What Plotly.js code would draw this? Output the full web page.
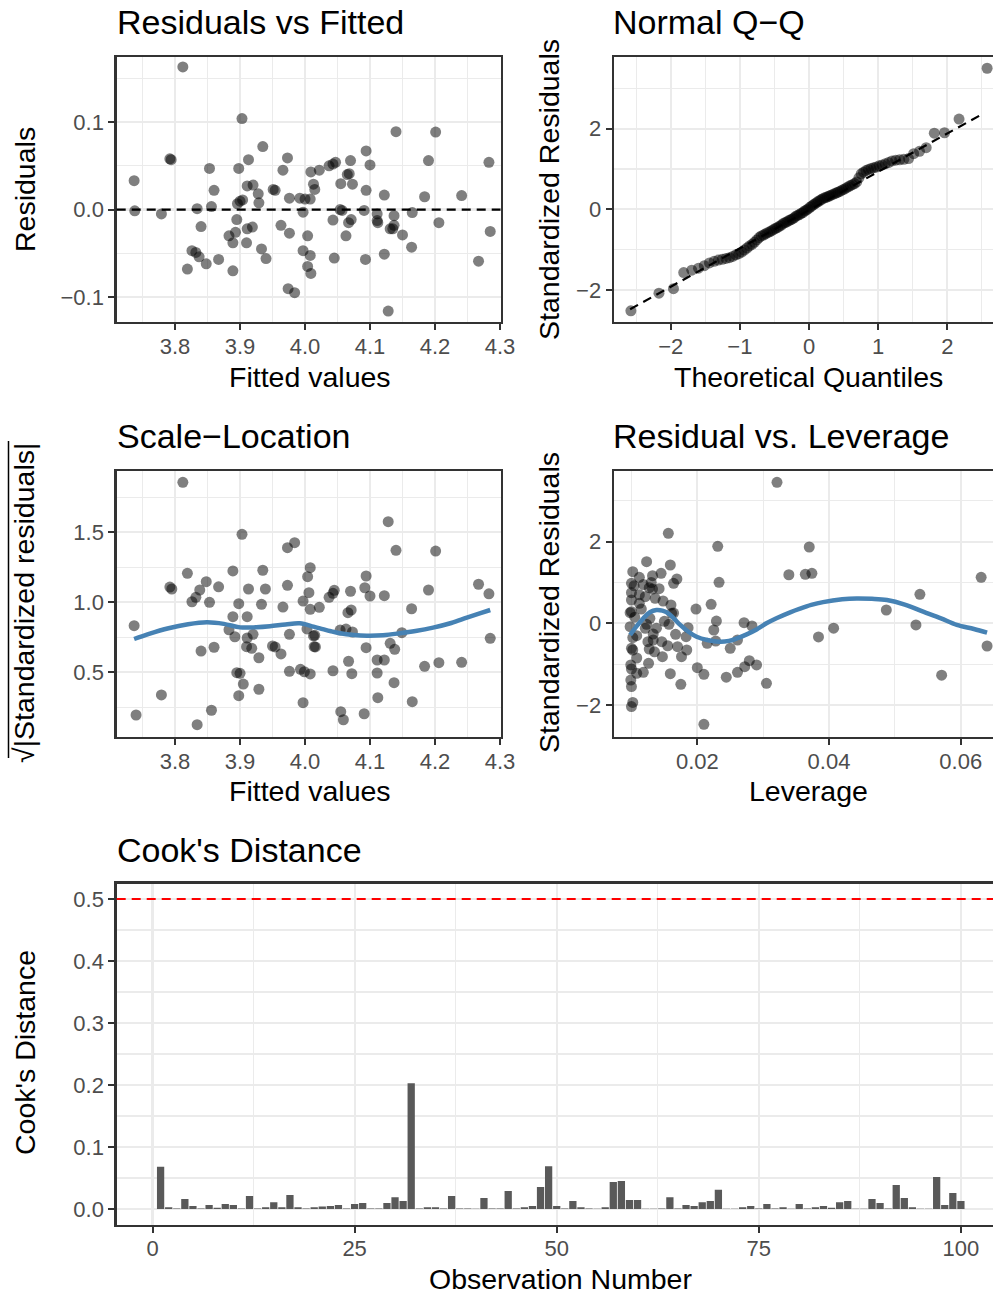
<!DOCTYPE html>
<html>
<head>
<meta charset="utf-8">
<script src="https://cdn.plot.ly/plotly-3.0.1.min.js"></script>
<style>html,body{margin:0;padding:0;background:#fff;}#chart{width:993px;height:1294px;}</style>
</head>
<body>
<div id="chart"></div>
<script>
// ---------- Data ----------
// Residuals vs Fitted
const fitted = [3.812,3.903,3.935,3.792,3.794,3.913,3.973,3.966,3.853,3.898,
3.737,4.009,3.860,3.911,3.920,3.928,3.951,3.954,3.976,3.992,
4.000,4.008,4.013,4.015,3.900,3.904,3.896,3.929,3.834,3.856,
3.738,3.779,3.895,3.997,3.840,3.911,3.919,3.963,3.976,3.883,
3.893,3.889,3.910,4.004,3.826,3.832,3.837,3.848,3.867,3.933,
3.940,3.997,4.008,3.819,3.889,4.004,4.009,3.974,3.984,4.140,
4.201,4.094,4.100,4.190,4.283,4.070,4.047,4.043,4.037,4.022,
4.068,4.065,4.055,4.073,4.094,4.122,4.184,4.241,4.057,4.054,
4.091,4.111,4.137,4.165,4.043,4.071,4.067,4.111,4.112,4.137,
4.131,4.135,4.150,4.206,4.285,4.063,4.164,4.122,4.045,4.093,
4.267,4.128];
const residuals = [0.163,0.104,0.072,0.058,0.057,0.057,0.059,0.045,0.047,0.047,
0.033,0.043,0.022,0.027,0.028,0.018,0.023,0.022,0.013,0.013,
0.012,0.012,0.029,0.023,0.0095,0.011,0.0066,0.0077,0.001,0.0034,
-0.0015,-0.005,-0.0115,-0.003,-0.0195,-0.022,-0.020,-0.018,-0.027,-0.030,
-0.026,-0.038,-0.038,-0.030,-0.047,-0.049,-0.054,-0.062,-0.057,-0.045,
-0.056,-0.047,-0.0525,-0.068,-0.070,-0.065,-0.073,-0.0905,-0.095,0.089,
0.0885,0.067,0.051,0.056,0.054,0.056,0.054,0.052,0.050,0.045,
0.041,0.040,0.0295,0.029,0.022,0.0165,0.0146,0.016,-0.001,0.000,
-0.001,-0.005,-0.007,-0.0035,-0.012,-0.0115,-0.015,-0.0126,-0.015,-0.018,
-0.022,-0.022,-0.029,-0.015,-0.025,-0.030,-0.043,-0.051,-0.0555,-0.057,
-0.059,-0.116];

// Normal Q-Q
const qqTheoretical = [-2.576,-2.170,-1.960,-1.812,-1.695,-1.598,-1.514,-1.440,-1.372,-1.311,
-1.254,-1.200,-1.150,-1.103,-1.058,-1.015,-0.974,-0.935,-0.896,-0.860,
-0.824,-0.789,-0.755,-0.722,-0.690,-0.659,-0.628,-0.598,-0.568,-0.539,
-0.510,-0.482,-0.454,-0.426,-0.399,-0.372,-0.345,-0.319,-0.292,-0.266,
-0.240,-0.215,-0.189,-0.164,-0.138,-0.113,-0.088,-0.063,-0.038,-0.013,
0.013,0.038,0.063,0.088,0.113,0.138,0.164,0.189,0.215,0.240,
0.266,0.292,0.319,0.345,0.372,0.399,0.426,0.454,0.482,0.510,
0.539,0.568,0.598,0.628,0.659,0.690,0.722,0.755,0.789,0.824,
0.860,0.896,0.935,0.974,1.015,1.058,1.103,1.150,1.200,1.254,
1.311,1.372,1.440,1.514,1.598,1.695,1.812,1.960,2.170,2.576];
const qqSample = [-2.52,-2.08,-1.97,-1.57,-1.51,-1.46,-1.40,-1.33,-1.29,-1.26,
-1.24,-1.22,-1.20,-1.17,-1.13,-1.10,-1.06,-1.01,-0.96,-0.91,
-0.87,-0.82,-0.76,-0.70,-0.66,-0.64,-0.61,-0.58,-0.56,-0.53,
-0.50,-0.47,-0.45,-0.42,-0.39,-0.35,-0.33,-0.31,-0.28,-0.26,
-0.24,-0.21,-0.17,-0.15,-0.13,-0.10,-0.08,-0.04,-0.02,0.01,
0.05,0.08,0.11,0.14,0.17,0.20,0.23,0.25,0.28,0.29,
0.31,0.33,0.35,0.37,0.39,0.41,0.43,0.45,0.48,0.50,
0.53,0.56,0.59,0.61,0.64,0.68,0.78,0.88,0.92,0.96,
0.99,1.01,1.03,1.05,1.08,1.10,1.13,1.16,1.20,1.22,
1.23,1.24,1.26,1.38,1.44,1.53,1.89,1.90,2.24,3.50];
const qqLineX = [-2.587, 2.461];
const qqLineY = [-2.48, 2.32];

// Scale-Location
const slFitted = [3.812,3.903,3.973,3.984,3.819,3.889,3.935,3.848,3.867,3.792,
3.795,3.838,3.832,3.826,3.913,3.939,3.973,4.008,4.004,4.006,
3.997,4.008,3.853,3.898,3.933,3.966,3.737,3.889,3.911,3.883,
3.892,3.911,3.920,3.976,4.003,4.013,3.910,3.918,3.929,3.950,
3.954,3.963,3.840,3.860,4.014,3.976,3.993,3.999,4.008,3.895,
3.900,3.905,3.929,3.898,3.779,3.997,3.856,3.740,3.834,
4.128,4.140,4.201,4.094,4.092,4.100,4.122,4.070,4.045,4.043,
4.037,4.190,4.267,4.283,4.022,4.071,4.066,4.164,4.054,4.063,
4.073,4.149,4.015,4.016,4.094,4.131,4.138,4.111,4.122,4.067,
4.184,4.206,4.241,4.043,4.072,4.111,4.137,4.285,4.112,4.165,
4.055,4.059,4.091];
const slSqrtStdResid = [1.857,1.486,1.390,1.426,1.207,1.224,1.229,1.147,1.111,1.109,
1.095,1.088,1.036,1.004,1.095,1.095,1.121,1.247,1.183,1.069,
1.009,0.950,1.000,0.990,0.986,0.966,0.833,0.897,0.897,0.804,
0.754,0.745,0.771,0.771,0.810,0.760,0.683,0.671,0.604,0.688,
0.681,0.631,0.652,0.679,0.683,0.507,0.521,0.504,0.488,0.497,
0.493,0.416,0.379,0.333,0.338,0.283,0.229,0.195,0.126,
1.576,1.371,1.366,1.188,1.104,1.045,1.047,1.079,1.086,1.064,
1.036,1.088,1.129,1.061,0.964,0.945,0.926,0.954,0.802,0.809,
0.788,0.783,0.764,0.681,0.676,0.707,0.664,0.588,0.588,0.579,
0.543,0.569,0.571,0.511,0.490,0.495,0.426,0.743,0.319,0.290,
0.219,0.161,0.204];
const slSmoothX = [3.737,3.760,3.790,3.820,3.849,3.875,3.900,3.925,3.946,3.970,3.992,4.013,4.023,4.040,4.054,4.075,4.095,4.120,4.146,4.170,4.197,4.225,4.249,4.270,4.285];
const slSmoothY = [0.738,0.775,0.815,0.843,0.857,0.846,0.821,0.822,0.829,0.842,0.850,0.826,0.814,0.793,0.779,0.767,0.762,0.765,0.779,0.795,0.819,0.852,0.890,0.922,0.945];

// Residual vs Leverage
const leverage = [0.0321,0.0156,0.0231,0.0123,0.0159,0.0102,0.0112,0.0132,0.0145,0.0100,
0.0104,0.0127,0.0132,0.0164,0.0169,0.0233,0.0339,0.0121,0.0136,0.0148,
0.0100,0.0112,0.0098,0.0100,0.0160,0.0161,0.0198,0.0221,0.0128,0.0157,
0.0098,0.0123,0.0121,0.0229,0.0186,0.0225,0.0271,0.0283,0.0108,0.0133,
0.0167,0.0183,0.0133,0.0146,0.0215,0.0228,0.0261,0.0250,0.0100,0.0102,
0.0127,0.0170,0.0184,0.0147,0.0176,0.0099,0.0100,0.0126,0.0118,0.0108,
0.0200,0.0210,0.0279,0.0290,0.0272,0.0261,0.0244,0.0159,0.0175,0.0305,
0.0099,0.0100,0.0102,0.0100,0.0210,
0.0370,0.0364,0.0374,0.0538,0.0487,0.0532,0.0407,0.0384,0.0571,0.0631,0.0640,
0.0100,0.0105,0.0115,0.0125,0.0138,0.0150,0.0108,0.0130,0.0142,0.0112,
0.0164,0.0135,0.0155,0.0102,0.0118];
const levStdResid = [3.456,2.206,1.887,1.510,1.429,1.265,1.127,1.167,1.225,0.980,
0.920,0.873,0.840,0.980,1.086,1.005,1.190,0.652,0.613,0.547,
0.571,0.490,0.260,0.284,0.449,0.245,0.350,0.466,0.122,-0.025,
-0.083,-0.025,-0.123,0.056,-0.108,-0.164,0.015,-0.066,-0.304,-0.262,
-0.270,-0.328,-0.409,-0.451,-0.490,-0.434,-0.409,-0.613,-0.613,-0.654,
-0.630,-0.573,-0.654,-0.818,-0.818,-1.020,-1.120,-0.980,-1.200,-1.225,
-1.088,-1.250,-0.917,-1.020,-1.064,-1.200,-1.320,-1.235,-1.495,-1.470,
-1.390,-1.550,-1.940,-2.040,-2.475,
1.870,1.200,1.225,0.710,0.326,-0.040,-0.120,-0.335,-1.270,1.127,-0.556,
0.750,0.150,0.350,-0.450,-0.120,0.050,-0.850,1.000,0.850,0.700,
0.250,-0.700,-0.550,-0.350,0.950];
const levSmoothX = [0.0098,0.0108,0.0118,0.0128,0.0138,0.0147,0.0156,0.0165,0.0174,0.0186,0.0199,0.0215,0.0234,0.0248,0.0260,0.0275,0.0290,0.0305,0.0321,0.0341,0.0356,0.0373,0.0391,0.0420,0.0442,0.0465,0.0488,0.0515,0.0543,0.0570,0.0594,0.0620,0.0640];
const levSmoothY = [-0.287,-0.070,0.122,0.270,0.326,0.310,0.245,0.110,-0.040,-0.200,-0.330,-0.410,-0.450,-0.430,-0.370,-0.270,-0.150,0.000,0.130,0.270,0.360,0.450,0.520,0.590,0.610,0.600,0.570,0.460,0.285,0.120,-0.040,-0.140,-0.230];

// Cook's Distance
const observation = [1,2,3,4,5,6,7,8,9,10,11,12,13,14,15,16,17,18,19,20,
21,22,23,24,25,26,27,28,29,30,31,32,33,34,35,36,37,38,39,40,
41,42,43,44,45,46,47,48,49,50,51,52,53,54,55,56,57,58,59,60,
61,62,63,64,65,66,67,68,69,70,71,72,73,74,75,76,77,78,79,80,
81,82,83,84,85,86,87,88,89,90,91,92,93,94,95,96,97,98,99,100];
const cooksDistance = [0.068,0.003,0.001,0.016,0.005,0.001,0.0065,0.002,0.008,0.0065,
0.001,0.021,0.001,0.003,0.011,0.003,0.0226,0.003,0.001,0.003,
0.004,0.005,0.0065,0.001,0.008,0.0097,0.001,0.001,0.0097,0.019,
0.013,0.203,0.001,0.003,0.003,0.001,0.021,0.001,0.001,0.0003,
0.0177,0.001,0.001,0.029,0.001,0.003,0.005,0.0355,0.069,0.005,
0.001,0.013,0.003,0.001,0.0003,0.003,0.0435,0.045,0.0145,0.0145,
0.0005,0.0005,0.001,0.019,0.001,0.0065,0.005,0.011,0.013,0.031,
0.0005,0.0003,0.003,0.005,0.001,0.008,0.001,0.003,0.0005,0.008,
0.001,0.003,0.005,0.002,0.011,0.013,0.0003,0.0003,0.016,0.0097,
0.001,0.0387,0.0177,0.003,0.0003,0.0003,0.0516,0.0065,0.026,0.013];
const cooksThreshold = 0.5;

// Titles / labels
const panelTitles = ["Residuals vs Fitted", "Normal Q\u2212Q", "Scale\u2212Location", "Residual vs. Leverage", "Cook's Distance"];

// ---------- Layout helpers (pixel geometry) ----------
const W = 993, H = 1294;
const fx = p => p / W;
const fy = p => 1 - p / H;
const FONT = "Liberation Sans, Arial, Helvetica, sans-serif";
const TICKSIZE = 22, AXTITLE = 28.5, TITLESIZE = 34;

function axis(opts) {
  return {
    domain: opts.domain,
    range: opts.range,
    anchor: opts.anchor,
    tickmode: 'linear',
    tick0: opts.tick0,
    dtick: opts.dtick,
    tickformat: opts.fmt || '',
    showgrid: true,
    gridcolor: '#EBEBEB',
    gridwidth: 2.2,
    zeroline: false,
    showline: true,
    mirror: opts.mirror,
    linecolor: '#333333',
    linewidth: 2.4,
    ticks: 'outside',
    ticklen: 6,
    tickwidth: 2,
    tickcolor: '#333333',
    ticklabelstandoff: opts.standoff || 0,
    tickfont: {family: FONT, size: TICKSIZE, color: '#4D4D4D'},
    minor: {tick0: opts.minor0, dtick: opts.minorD, showgrid: true, gridcolor: '#EBEBEB', gridwidth: 1.1},
    fixedrange: true,
    layer: 'above traces'
  };
}

const P1x = [116.7, 500.5], P1y = [57.3, 321.7];
const P2x = [614, 993];
const P3y = [471, 736.7];
const P4x = [614, 993];
const P5x = [116.7, 993], P5y = [883.5, 1224.5];

const layout = {
  width: W, height: H,
  margin: {l: 0, r: 0, t: 0, b: 0},
  paper_bgcolor: '#ffffff',
  plot_bgcolor: '#ffffff',
  showlegend: false,
  font: {family: FONT},
  xaxis: axis({domain: [fx(P1x[0]), fx(P1x[1])], range: [3.7102, 4.3008], anchor: 'y', tick0: 3.8, dtick: 0.1, fmt: '.1f', minor0: 3.75, minorD: 0.1, mirror: true, standoff: -3}),
  yaxis: axis({domain: [fy(P1y[1]), fy(P1y[0])], range: [-0.1282, 0.174], anchor: 'x', tick0: 0, dtick: 0.1, fmt: '.1f', minor0: 0.05, minorD: 0.1, mirror: true}),
  xaxis2: axis({domain: [fx(P2x[0]), fx(P2x[1])], range: [-2.820, 2.661], anchor: 'y2', tick0: 0, dtick: 1, fmt: 'd', minor0: 0.5, minorD: 1, mirror: true, standoff: -3}),
  yaxis2: axis({domain: [fy(P1y[1]), fy(P1y[0])], range: [-2.789, 3.772], anchor: 'x2', tick0: 0, dtick: 2, fmt: 'd', minor0: 1, minorD: 2, mirror: false}),
  xaxis3: axis({domain: [fx(P1x[0]), fx(P1x[1])], range: [3.7102, 4.3008], anchor: 'y3', tick0: 3.8, dtick: 0.1, fmt: '.1f', minor0: 3.75, minorD: 0.1, mirror: true, standoff: -3}),
  yaxis3: axis({domain: [fy(P3y[1]), fy(P3y[0])], range: [0.040, 1.938], anchor: 'x3', tick0: 0.5, dtick: 0.5, fmt: '.1f', minor0: 0.25, minorD: 0.5, mirror: true}),
  xaxis4: axis({domain: [fx(P4x[0]), fx(P4x[1])], range: [0.00735, 0.0649], anchor: 'y4', tick0: 0.02, dtick: 0.02, fmt: '.2f', minor0: 0.01, minorD: 0.02, mirror: true, standoff: -3}),
  yaxis4: axis({domain: [fy(P3y[1]), fy(P3y[0])], range: [-2.779, 3.733], anchor: 'x4', tick0: 0, dtick: 2, fmt: 'd', minor0: 1, minorD: 2, mirror: false}),
  xaxis5: axis({domain: [fx(P5x[0]), fx(P5x[1])], range: [-4.43, 103.97], anchor: 'y5', tick0: 0, dtick: 25, fmt: 'd', minor0: 12.5, minorD: 25, mirror: true, standoff: -3}),
  yaxis5: axis({domain: [fy(P5y[1]), fy(P5y[0])], range: [-0.025, 0.525], anchor: 'x5', tick0: 0, dtick: 0.1, fmt: '.1f', minor0: 0.05, minorD: 0.1, mirror: false}),
  shapes: [
    {type: 'line', xref: 'x domain', x0: 0, x1: 1, yref: 'y', y0: 0, y1: 0, line: {color: '#000000', width: 2.2, dash: '9px,6px'}, layer: 'above'},
    {type: 'line', xref: 'x5 domain', x0: 0, x1: 1, yref: 'y5', y0: cooksThreshold, y1: cooksThreshold, line: {color: '#FF0000', width: 2.2, dash: '9px,6px'}, layer: 'above'},
    // vinculum of the square-root sign in the rotated y title
    {type: 'line', xref: 'paper', yref: 'paper', x0: fx(8.5), x1: fx(8.5), y0: fy(441), y1: fy(758), line: {color: '#000000', width: 1.5}}
  ],
  annotations: []
};

function ann(text, xpx, ypx, size, opts) {
  return Object.assign({
    text: text, xref: 'paper', yref: 'paper', x: fx(xpx), y: fy(ypx),
    xanchor: 'center', yanchor: 'middle', showarrow: false,
    font: {family: FONT, size: size, color: '#000000'}
  }, opts || {});
}
// Panel titles
layout.annotations.push(ann(panelTitles[0], 115, 22, TITLESIZE, {xanchor: 'left'}));
layout.annotations.push(ann(panelTitles[1], 611, 22, TITLESIZE, {xanchor: 'left'}));
layout.annotations.push(ann(panelTitles[2], 115, 436, TITLESIZE, {xanchor: 'left'}));
layout.annotations.push(ann(panelTitles[3], 611, 436, TITLESIZE, {xanchor: 'left'}));
layout.annotations.push(ann(panelTitles[4], 115, 850, TITLESIZE, {xanchor: 'left'}));
// Axis titles
layout.annotations.push(ann('Fitted values', 310, 377, AXTITLE));
layout.annotations.push(ann('Residuals', 25, 190, AXTITLE, {textangle: -90}));
layout.annotations.push(ann('Theoretical Quantiles', 808, 377, AXTITLE));
layout.annotations.push(ann('Standardized Residuals', 549, 190, AXTITLE, {textangle: -90}));
layout.annotations.push(ann('Fitted values', 310, 791, AXTITLE));
layout.annotations.push(ann('\u221A|Standardized residuals|', 24, 603, AXTITLE, {textangle: -90}));
layout.annotations.push(ann('Leverage', 808, 791, AXTITLE));
layout.annotations.push(ann('Standardized Residuals', 549, 603, AXTITLE, {textangle: -90}));
layout.annotations.push(ann('Observation Number', 560, 1279, AXTITLE));
layout.annotations.push(ann("Cook's Distance", 25, 1053, AXTITLE, {textangle: -90}));

const pt = {size: 11, color: 'rgba(0,0,0,0.5)', line: {width: 0}};
const traces = [
  {type: 'scatter', mode: 'markers', x: fitted, y: residuals, xaxis: 'x', yaxis: 'y', marker: pt, hoverinfo: 'skip'},
  {type: 'scatter', mode: 'markers', x: qqTheoretical, y: qqSample, xaxis: 'x2', yaxis: 'y2', marker: pt, hoverinfo: 'skip'},
  {type: 'scatter', mode: 'lines', x: qqLineX, y: qqLineY, xaxis: 'x2', yaxis: 'y2', line: {color: '#000000', width: 2.2, dash: '9px,6px'}, hoverinfo: 'skip'},
  {type: 'scatter', mode: 'markers', x: slFitted, y: slSqrtStdResid, xaxis: 'x3', yaxis: 'y3', marker: pt, hoverinfo: 'skip'},
  {type: 'scatter', mode: 'lines', x: slSmoothX, y: slSmoothY, xaxis: 'x3', yaxis: 'y3', line: {color: '#4682B4', width: 4.5, shape: 'spline'}, hoverinfo: 'skip'},
  {type: 'scatter', mode: 'markers', x: leverage, y: levStdResid, xaxis: 'x4', yaxis: 'y4', marker: pt, hoverinfo: 'skip'},
  {type: 'scatter', mode: 'lines', x: levSmoothX, y: levSmoothY, xaxis: 'x4', yaxis: 'y4', line: {color: '#4682B4', width: 4.5, shape: 'spline'}, hoverinfo: 'skip'},
  {type: 'bar', x: observation, y: cooksDistance, xaxis: 'x5', yaxis: 'y5', width: 0.9, marker: {color: '#595959', line: {width: 0}}, hoverinfo: 'skip'}
];

Plotly.newPlot('chart', traces, layout, {staticPlot: true, displayModeBar: false});
</script>
</body>
</html>
